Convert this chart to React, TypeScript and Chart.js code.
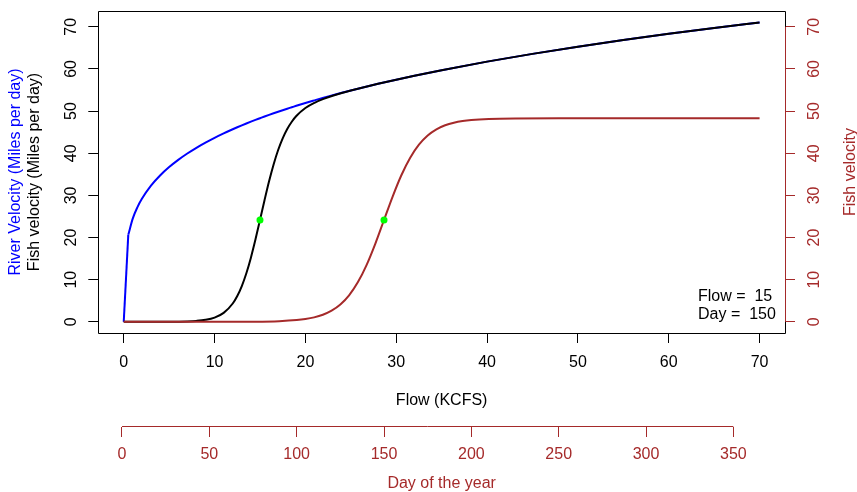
import { useEffect, useRef } from "react";
import { Chart, registerables } from "chart.js";

Chart.register(...registerables);

// ---------- data ----------
const flowValues = [0, 0.5, 1, 1.5, 2, 3, 4, 5, 6, 7, 8, 9, 10, 11, 12, 12.5, 13, 13.5, 14, 14.5, 15, 15.5, 16, 16.5, 17, 17.5, 18, 18.5, 19, 20, 21, 22, 23, 24, 25, 26, 28, 30, 32, 35, 40, 45, 50, 55, 60, 65, 70];
const riverVelocity = [0, 20.64, 24.55, 27.17, 29.19, 32.31, 34.72, 36.71, 38.42, 39.93, 41.29, 42.52, 43.66, 44.71, 45.69, 46.16, 46.62, 47.06, 47.49, 47.91, 48.31, 48.71, 49.1, 49.48, 49.85, 50.21, 50.57, 50.91, 51.26, 51.92, 52.55, 53.17, 53.76, 54.34, 54.9, 55.44, 56.47, 57.45, 58.39, 59.71, 61.74, 63.58, 65.28, 66.86, 68.33, 69.71, 71.01];
const fishVelocityByFlow = [0, 0, 0, 0, 0, 0.004, 0.009, 0.02, 0.045, 0.099, 0.22, 0.47, 1.0, 2.12, 4.35, 6.14, 8.5, 11.53, 15.23, 19.51, 24.16, 28.87, 33.35, 37.35, 40.76, 43.53, 45.75, 47.48, 48.83, 50.73, 51.97, 52.89, 53.63, 54.28, 54.87, 55.43, 56.47, 57.45, 58.39, 59.71, 61.74, 63.58, 65.28, 66.86, 68.33, 69.71, 71.01];

const dayValues = [1, 25, 50, 75, 90, 100, 105, 110, 115, 120, 125, 130, 135, 140, 145, 150, 155, 160, 165, 170, 175, 180, 185, 190, 195, 200, 210, 225, 250, 300, 365];
const fishVelocityByDay = [0, 0.0003, 0.0036, 0.039, 0.161, 0.415, 0.663, 1.057, 1.68, 2.64, 4.11, 6.29, 9.37, 13.47, 18.52, 24.16, 29.79, 34.84, 38.94, 42.02, 44.2, 45.67, 46.63, 47.25, 47.65, 47.9, 48.15, 48.27, 48.3, 48.31, 48.31];

const selectedFlow = 15;
const selectedDay = 150;
const selectedFishVelocity = 24.16;

const flowTicks = [0, 10, 20, 30, 40, 50, 60, 70];
const dayTicks = [0, 50, 100, 150, 200, 250, 300, 350];
const velocityTicks = [0, 10, 20, 30, 40, 50, 60, 70];

// ---------- style ----------
const FONT = "'Liberation Sans', Arial, Helvetica, sans-serif";
const BROWN = "#A52A2A";
const FS = 16;

const setTicks = (arr: number[]) => (s: any) => {
  s.ticks = arr.map((v) => ({ value: v }));
};

const rStyle = {
  id: "rStyle",
  afterDraw(chart: any) {
    const { ctx, chartArea: a, scales } = chart;
    ctx.save();
    const px = (v: number) => Math.floor(v) + 0.5;
    // plot box
    ctx.strokeStyle = "#000";
    ctx.lineWidth = 1;
    ctx.beginPath();
    ctx.rect(px(a.left), px(a.top), px(a.right) - px(a.left), px(a.bottom) - px(a.top));
    ctx.stroke();
    const line = (x1: number, y1: number, x2: number, y2: number, c: string) => {
      ctx.strokeStyle = c;
      ctx.beginPath();
      ctx.moveTo(x1, y1);
      ctx.lineTo(x2, y2);
      ctx.stroke();
    };
    const yS = scales.y, y2S = scales.y2, xS = scales.x, dS = scales.xDay;
    line(px(a.left), yS.getPixelForValue(velocityTicks[0]), px(a.left), yS.getPixelForValue(velocityTicks[velocityTicks.length - 1]), "#000");
    line(px(a.right), y2S.getPixelForValue(velocityTicks[0]), px(a.right), y2S.getPixelForValue(velocityTicks[velocityTicks.length - 1]), BROWN);
    line(xS.getPixelForValue(flowTicks[0]), px(a.bottom), xS.getPixelForValue(flowTicks[flowTicks.length - 1]), px(a.bottom), "#000");
    line(dS.getPixelForValue(dayTicks[0]), Math.round(dS.top) - 0.5, dS.getPixelForValue(dayTicks[dayTicks.length - 1]), Math.round(dS.top) - 0.5, BROWN);

    // rotated axis titles
    ctx.font = `${FS}px ${FONT}`;
    const vtext = (t: string, x: number, y: number, c: string) => {
      ctx.save();
      ctx.translate(x, y);
      ctx.rotate(-Math.PI / 2);
      ctx.textAlign = "center";
      ctx.textBaseline = "middle";
      ctx.fillStyle = c;
      ctx.fillText(t, 0, 0);
      ctx.restore();
    };
    const midY = (a.top + a.bottom) / 2;
    vtext("River Velocity (Miles per day)", 16, midY, "#0000FF");
    vtext("Fish velocity (Miles per day)", 34.5, midY, "#000");
    vtext("Fish velocity", 851, midY, BROWN);

    // annotation
    ctx.textAlign = "left";
    ctx.textBaseline = "alphabetic";
    ctx.fillStyle = "#000";
    ctx.fillText(`Flow =  ${selectedFlow}`, 698, 301);
    ctx.fillText(`Day =  ${selectedDay}`, 698, 319);
    ctx.restore();
  },
};

export default function App() {
  const ref = useRef<HTMLCanvasElement>(null);
  useEffect(() => {
    const font = { family: FONT, size: FS };
    const zeroPad = (s: any) => {
      s.paddingTop = 0;
      s.paddingBottom = 0;
      s.paddingLeft = 0;
      s.paddingRight = 0;
    };
    const riverPts = flowValues.map((f, i) => ({ x: f, y: riverVelocity[i] }));
    const chart = new Chart(ref.current as HTMLCanvasElement, {
      type: "line",
      data: {
        datasets: [
          {
            label: "flow point",
            data: [{ x: selectedFlow, y: selectedFishVelocity }],
            xAxisID: "x",
            yAxisID: "y",
            showLine: false,
            pointRadius: 3.5,
            pointBackgroundColor: "#00FF00",
            pointBorderWidth: 0,
            order: 0,
          },
          {
            label: "day point",
            data: [{ x: selectedDay, y: selectedFishVelocity }],
            xAxisID: "xDay",
            yAxisID: "y2",
            showLine: false,
            pointRadius: 3.5,
            pointBackgroundColor: "#00FF00",
            pointBorderWidth: 0,
            order: 0,
          },
          {
            label: "Fish velocity by day",
            data: dayValues.map((d, i) => ({ x: d, y: fishVelocityByDay[i] })),
            xAxisID: "xDay",
            yAxisID: "y2",
            borderColor: BROWN,
            borderWidth: 2,
            pointRadius: 0,
            cubicInterpolationMode: "monotone",
            order: 1,
          },
          {
            label: "Fish velocity",
            data: flowValues.map((f, i) => ({ x: f, y: fishVelocityByFlow[i] })),
            xAxisID: "x",
            yAxisID: "y",
            borderColor: "#000000",
            borderWidth: 2,
            pointRadius: 0,
            cubicInterpolationMode: "monotone",
            order: 2,
          },
          {
            label: "River Velocity (first step)",
            data: riverPts.slice(0, 2),
            xAxisID: "x",
            yAxisID: "y",
            borderColor: "#0000FF",
            borderWidth: 2,
            pointRadius: 0,
            tension: 0,
            order: 3,
          },
          {
            label: "River Velocity",
            data: riverPts.slice(1),
            xAxisID: "x",
            yAxisID: "y",
            borderColor: "#0000FF",
            borderWidth: 2,
            pointRadius: 0,
            cubicInterpolationMode: "monotone",
            order: 3,
          },
        ],
      },
      options: {
        animation: false,
        responsive: true,
        maintainAspectRatio: false,
        devicePixelRatio: 1,
        layout: { padding: { top: 11, left: 0, right: 0, bottom: 0 } },
        plugins: { legend: { display: false }, tooltip: { enabled: false } },
        events: [],
        scales: {
          x: {
            type: "linear",
            position: "bottom",
            weight: 0,
            min: -2.8,
            max: 72.8,
            afterBuildTicks: setTicks(flowTicks),
            afterFit: (s: any) => {
              s.height = 94;
              zeroPad(s);
            },
            border: { display: false },
            grid: { drawOnChartArea: false, drawTicks: true, tickLength: 10, tickColor: "#000", color: "#000" },
            ticks: { font, color: "#000", padding: 10, maxRotation: 0, minRotation: 0, autoSkip: false },
            title: { display: true, text: "Flow (KCFS)", color: "#000", font: { family: FONT, size: FS, lineHeight: 1 }, padding: { top: 0, bottom: 18.5 } },
          },
          xDay: {
            type: "linear",
            position: "bottom",
            weight: 1,
            min: -13.56,
            max: 379.56,
            afterBuildTicks: setTicks(dayTicks),
            afterFit: (s: any) => {
              s.height = 65;
              zeroPad(s);
            },
            border: { display: false },
            grid: { drawOnChartArea: false, drawTicks: true, tickLength: 10, tickColor: BROWN, color: BROWN },
            ticks: { font, color: BROWN, padding: 8.4, maxRotation: 0, minRotation: 0, autoSkip: false },
            title: { display: true, text: "Day of the year", color: BROWN, font: { family: FONT, size: FS, lineHeight: 1 }, padding: { top: 0, bottom: 0 } },
          },
          y: {
            type: "linear",
            position: "left",
            min: -2.65,
            max: 73.75,
            afterBuildTicks: setTicks(velocityTicks),
            afterFit: (s: any) => {
              s.width = 98.3;
              zeroPad(s);
            },
            border: { display: false },
            grid: { drawOnChartArea: false, drawTicks: true, tickLength: 10, tickColor: "#000", color: "#000" },
            ticks: { font, color: "#000", padding: 7.7, minRotation: 90, maxRotation: 90, crossAlign: "center", autoSkip: false },
          },
          y2: {
            type: "linear",
            position: "right",
            min: -2.65,
            max: 73.75,
            afterBuildTicks: setTicks(velocityTicks),
            afterFit: (s: any) => {
              s.width = 72;
              zeroPad(s);
            },
            border: { display: false },
            grid: { drawOnChartArea: false, drawTicks: true, tickLength: 10, tickColor: BROWN, color: BROWN },
            ticks: { font, color: BROWN, padding: 10.3, minRotation: 90, maxRotation: 90, crossAlign: "center", autoSkip: false },
          },
        },
      } as any,
      plugins: [rStyle],
    });
    return () => chart.destroy();
  }, []);
  return (
    <div style={{ position: "absolute", left: 0, top: 0, width: 857, height: 492, background: "#fff" }}>
      <canvas ref={ref} />
    </div>
  );
}
